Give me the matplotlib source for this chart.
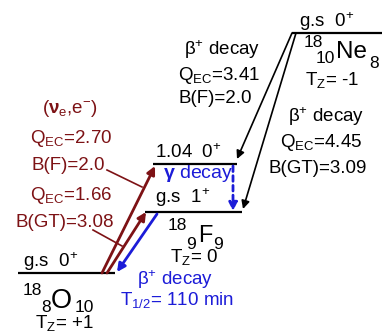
import matplotlib
matplotlib.use("Agg")
import matplotlib.pyplot as plt

plt.rcParams['font.family'] = ['Liberation Sans', 'DejaVu Sans']
plt.rcParams['mathtext.fontset'] = 'custom'
plt.rcParams['mathtext.rm'] = 'Liberation Sans'
plt.rcParams['mathtext.it'] = 'Liberation Sans:italic'
plt.rcParams['mathtext.bf'] = 'Liberation Sans:bold'

RED = "#7d1215"
BLUE = "#1c1cd8"

# levels: (x0, x1, y) in diagram units
lev_O18 = (18, 115, 273)
lev_F18_gs = (145, 242, 212)
lev_F18_104 = (153, 237, 164)
lev_Ne18 = (292, 382, 33)
levels = [lev_O18, lev_F18_gs, lev_F18_104, lev_Ne18]

spin_labels = ["g.s  0$^{+}$", "g.s  1$^{+}$", "1.04  0$^{+}$", "g.s  0$^{+}$"]
nuclei = [("18", "8", "O", "10"), ("18", "9", "F", "9"), ("18", "10", "Ne", "8")]
tz_labels = ["T$_{\\rm Z}$= +1", "T$_{\\rm Z}$= 0", "T$_{\\rm Z}$= -1"]

cex_labels = ["($\\mathbf{\u03bd}_{\\rm e}$,e$^{-}$)", "Q$_{\\rm EC}$=2.70", "B(F)=2.0",
              "Q$_{\\rm EC}$=1.66", "B(GT)=3.08"]
ne_f_labels = ["\u03b2$^{+}$ decay", "Q$_{\\rm EC}$=3.41", "B(F)=2.0"]
ne_gt_labels = ["\u03b2$^{+}$ decay", "Q$_{\\rm EC}$=4.45", "B(GT)=3.09"]
f_decay_labels = ["\u03b2$^{+}$ decay", "T$_{1/2}$= 110 min"]

fig = plt.figure(figsize=(3.82, 3.35), dpi=100)
ax = fig.add_axes([0, 0, 1, 1])
ax.set_xlim(0, 382)
ax.set_ylim(335, 0)
ax.axis("off")

for x0, x1, y in levels:
    ax.plot([x0, x1], [y, y], color="black", lw=1.6, solid_capstyle="butt")

fs = 13.5
# spin labels
for (x, y), s in zip([(23, 267), (155, 203), (155, 158), (299, 27)], spin_labels):
    ax.text(x, y, s, fontsize=fs, ha="left", va="baseline")

# nucleus names: mass, Z, symbol, N positions and symbol size
name_pos = [((23, 295), (41, 312), (51, 308), (75, 312), 19.5),
            ((168, 230), (186, 249), (198, 242), (213, 249), 17),
            ((304, 47), (316, 63), (336, 58), (369, 68), 17.5)]
for (a, z, sym, n), (pa, pz, ps, pn, sz) in zip(nuclei, name_pos):
    ax.text(*pa, a, fontsize=12.5, va="baseline")
    ax.text(*pz, z, fontsize=12.5, va="baseline")
    ax.text(*ps, sym, fontsize=sz, va="baseline")
    ax.text(*pn, n, fontsize=12.5, va="baseline")

for (x, y), s in zip([(35, 328), (170, 262), (305, 85)], tz_labels):
    ax.text(x, y, s, fontsize=fs, va="baseline")

# charge exchange labels (dark red)
for (x, y), s in zip([(70, 113), (71, 143), (68, 170), (71, 200), (65, 227)], cex_labels):
    ax.text(x, y, s, fontsize=fs, color=RED, ha="center", va="baseline")

for (x, y), s in zip([(184, 55), (178, 80), (178, 103)], ne_f_labels):
    ax.text(x, y, s, fontsize=fs, ha="left", va="baseline")
for (x, y), s in zip([(288, 122), (280, 147), (268, 173)], ne_gt_labels):
    ax.text(x, y, s, fontsize=fs, ha="left", va="baseline")

for (x, y), s in zip([(137, 285), (120, 305)], f_decay_labels):
    ax.text(x, y, s, fontsize=fs, color=BLUE, ha="left", va="baseline")

ax.text(163, 178, "$\\mathbf{\u03b3}$ decay", fontsize=14, color=BLUE, va="baseline")


def arrow(p0, p1, color, lw=1.4, ls="-", ms=12):
    ax.annotate("", xy=p1, xytext=p0,
                arrowprops=dict(arrowstyle="-|>", color=color, lw=lw, linestyle=ls,
                                mutation_scale=ms, shrinkA=0, shrinkB=0))


# (nu_e, e-) transitions
arrow((102, lev_O18[2]), (155, lev_F18_104[2] + 2), RED, lw=2)
arrow((107, lev_O18[2]), (146, lev_F18_gs[2]), RED, lw=2)
# beta+ decay of 18F
arrow((157, lev_F18_gs[2] + 2), (117, lev_O18[2] - 1), BLUE, lw=2)
# 18Ne beta decays
arrow((292, lev_Ne18[2]), (237, lev_F18_104[2] - 5), "black", lw=1.2)
arrow((296, lev_Ne18[2]), (243, lev_F18_gs[2] - 3), "black", lw=1.2)
# gamma decay
arrow((233, lev_F18_104[2] + 2), (233, lev_F18_gs[2] - 1), BLUE, lw=2, ls=(0, (2, 1.5)))

# pointer lines
ax.plot([107, 142], [170, 187], color=RED, lw=1.2)
ax.plot([93, 122], [230, 246], color=RED, lw=1.2)

fig.savefig("out.png", dpi=100)
